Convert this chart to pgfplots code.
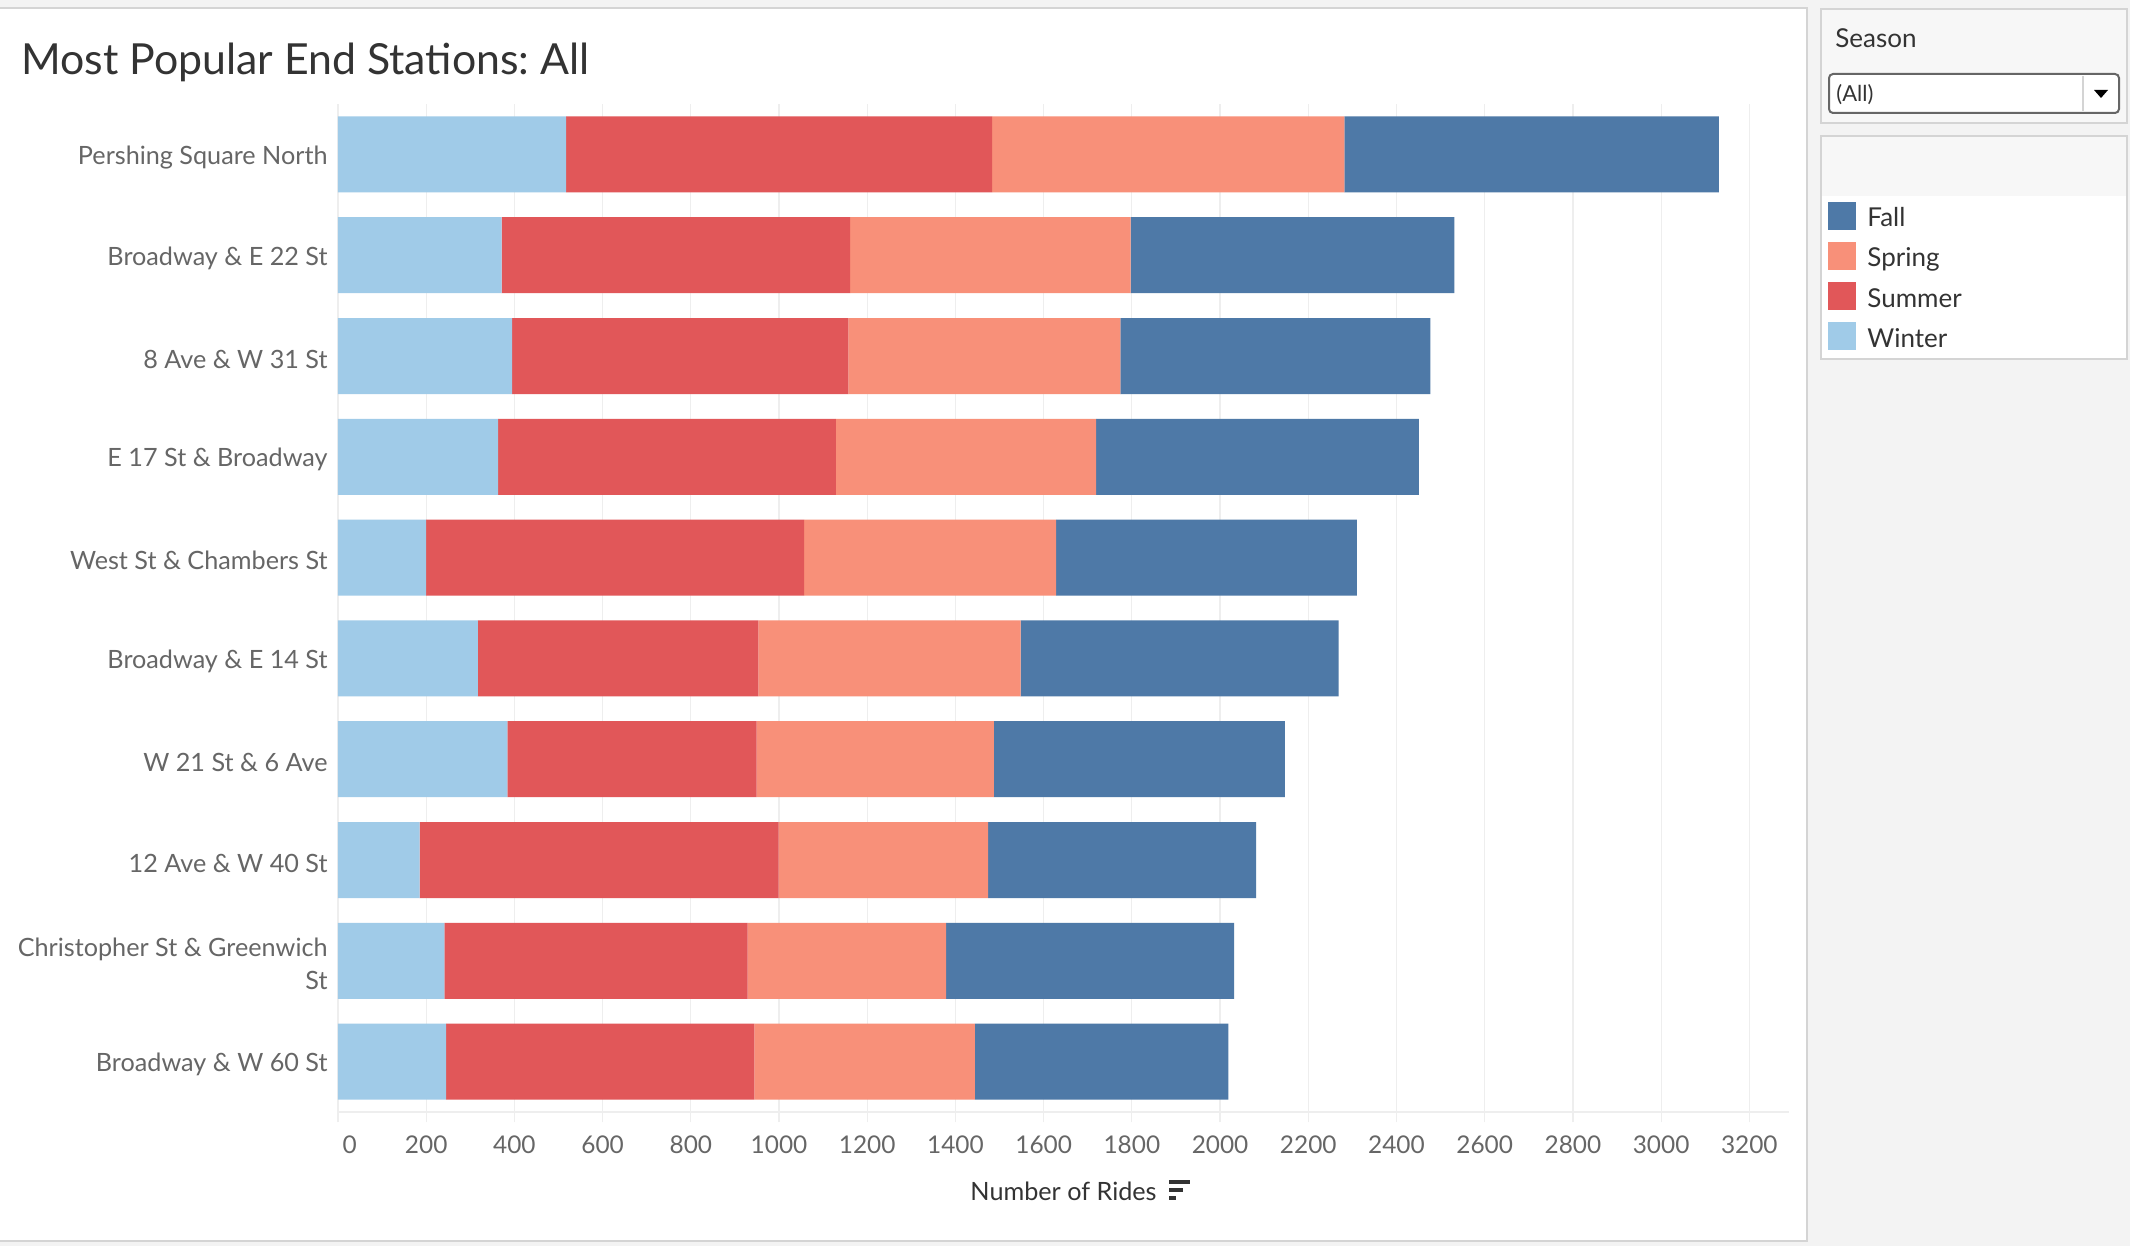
\documentclass[border=0pt]{standalone}
\usepackage{fontspec}
\setmainfont{Lato}
\usepackage{pgfplots}
\usepackage{pgfplotstable}
\pgfplotsset{compat=1.18}
\frenchspacing

\definecolor{winter}{HTML}{A0CBE8}
\definecolor{summer}{HTML}{E15759}
\definecolor{spring}{HTML}{F89079}
\definecolor{fall}{HTML}{4E79A7}
\definecolor{ticktext}{HTML}{666666}
\definecolor{dark}{HTML}{333333}
\definecolor{gridc}{HTML}{EEEEEE}
\definecolor{bg}{HTML}{F3F3F3}
\definecolor{frame}{HTML}{D4D4D4}
\definecolor{panel}{HTML}{F7F7F7}

% rides per season, stations top to bottom
\pgfplotstableread{
idx winter summer spring fall
0 517 966 799 849
1 371 790 636 734
2 395 762 617 703
3 363 766 590 732
4 200 857 571 682
5 317 636 595 721
6 384 565 538 660
7 185 814 475 608
8 241 688 450 653
9 245 699 500 575
}\rides

\begin{document}
\begin{tikzpicture}
\useasboundingbox (0,0) rectangle (1065pt,-623pt);
\begin{scope}[x=0.5pt,y=-0.5pt]
\fill[bg] (0,0) rectangle (2130,1246);
\fill[white] (0,8) rectangle (1807,1241);
\draw[frame,line width=1pt] (0,8) -- (1807,8) -- (1807,1241) -- (0,1241);
\node[anchor=base west,inner sep=0,text=dark,font=\fontsize{21.4}{24}\selectfont] at (21,75) {Most Popular End Stations: All};
\end{scope}

\begin{axis}[
  at={(169pt,-556pt)}, anchor=south west,
  scale only axis, width=725.5pt, height=504pt,
  xbar stacked, bar width=38pt,
  xmin=0, xmax=3290, ymin=-0.5, ymax=9.5,
  xtick={200,400,...,3200},
  extra x ticks={0},
  extra x tick style={xticklabel style={anchor=north west,xshift=-1.2pt}},
  ytick={0,...,9},
  yticklabels={Broadway \& W 60 St,{Christopher St \& Greenwich\\St},12 Ave \& W 40 St,W 21 St \& 6 Ave,Broadway \& E 14 St,West St \& Chambers St,E 17 St \& Broadway,8 Ave \& W 31 St,Broadway \& E 22 St,Pershing Square North},
  axis x line*=bottom, axis y line*=left,
  axis line style={draw=none},
  x axis line style={draw=gridc,line width=1.4pt},
  ytick style={draw=none},
  xtick style={draw=gridc,line width=0.6pt},
  tick align=outside, major tick length=5pt,
  xmajorgrids, grid style={draw=gridc,line width=0.6pt},
  /pgf/number format/assume math mode=true,
  /pgf/number format/1000 sep={},
  xticklabel style={font=\fontsize{12.2}{14}\selectfont,text=ticktext,yshift=-3.5pt},
  yticklabel style={font=\fontsize{12.6}{16.5}\selectfont,text=ticktext,align=right,inner sep=0pt,xshift=0pt,yshift=-1.5pt},
  xlabel={Number of Rides},
  xlabel style={at={(axis description cs:0.5,0)},anchor=base,yshift=-44pt,inner sep=0pt,font=\fontsize{12.6}{14}\selectfont,text=dark},
  every axis plot/.append style={draw=none},
]
\addplot[fill=winter] table[x=winter,y expr=9-\thisrow{idx}] {\rides};
\addplot[fill=summer] table[x=summer,y expr=9-\thisrow{idx}] {\rides};
\addplot[fill=spring] table[x=spring,y expr=9-\thisrow{idx}] {\rides};
\addplot[fill=fall] table[x=fall,y expr=9-\thisrow{idx}] {\rides};
\end{axis}

\begin{scope}[x=0.5pt,y=-0.5pt]
% sort icon
\fill[dark] (1169,1180) rectangle (1190,1184);
\fill[dark] (1169,1188) rectangle (1183,1192);
\fill[dark] (1169,1196) rectangle (1176,1200);
% season filter
\filldraw[fill=panel,draw=frame,line width=1pt] (1821,9) rectangle (2127,123);
\node[anchor=base west,inner sep=0,text=dark,font=\fontsize{13}{15}\selectfont] at (1835,48) {Season};
\filldraw[fill=white,draw=ticktext,line width=1pt,rounded corners=2pt] (1829,74) rectangle (2119,113);
\draw[frame,line width=0.8pt] (2083,76) -- (2083,111);
\fill[black] (2094,90) -- (2108,90) -- (2101,98) -- cycle;
\node[anchor=base west,inner sep=0,text=dark,font=\fontsize{11}{13}\selectfont] at (1836,102) {(All)};
% legend
\filldraw[fill=white,draw=frame,line width=1pt] (1821,136) rectangle (2127,359);
\fill[panel] (1822,137) rectangle (2126,196);
\fill[fall] (1828,202) rectangle (1856,230);
\fill[spring] (1828,242) rectangle (1856,270);
\fill[summer] (1828,282) rectangle (1856,310);
\fill[winter] (1828,322) rectangle (1856,350);
\begin{scope}[every node/.style={anchor=base west,inner sep=0,text=dark,font=\fontsize{13}{15}\selectfont}]
\node at (1867,227) {Fall};
\node at (1867,267) {Spring};
\node at (1867,307) {Summer};
\node at (1867,347) {Winter};
\end{scope}
\end{scope}
\end{tikzpicture}
\end{document}
